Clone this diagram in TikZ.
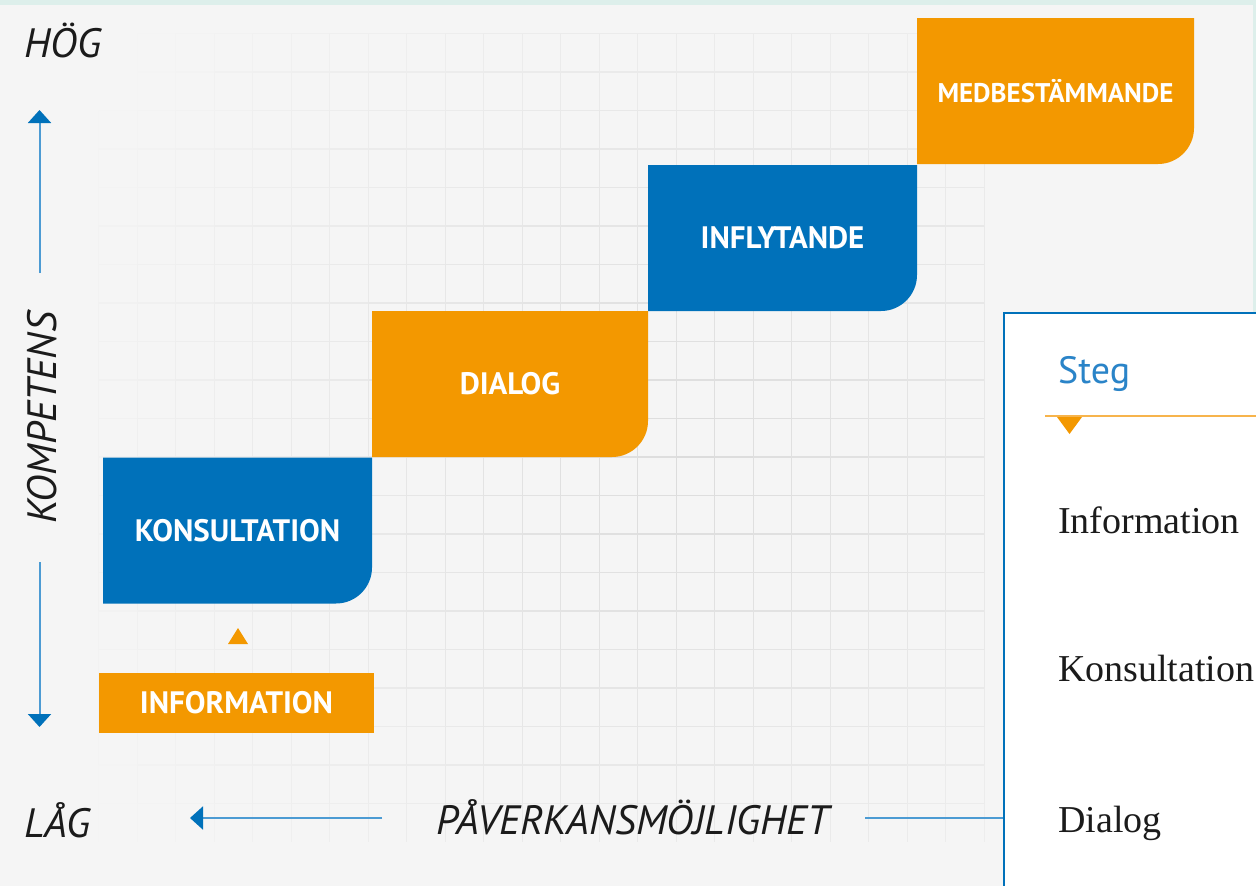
\documentclass[tikz,border=0pt]{standalone}
\usepackage{fontspec}
\setsansfont{PT Sans}
\newfontfamily\stegserif{Liberation Serif}
\usetikzlibrary{arrows.meta}

\definecolor{stepblue}{HTML}{0071BA}
\definecolor{steporange}{HTML}{F39800}
\definecolor{axisblue}{HTML}{4C9BD3}
\definecolor{paper}{HTML}{F5F5F5}
\definecolor{gridgray}{HTML}{DCDCDC}
\definecolor{bandteal}{HTML}{DDEFEB}
\definecolor{stegblue}{HTML}{2A84C8}
\definecolor{lineorange}{HTML}{F7B44C}
\definecolor{labelblack}{HTML}{1B1B1B}

\tikzset{
  stepbox/.style={minimum height=146pt, inner sep=0pt, text=white,
    font=\sffamily\bfseries\fontsize{31}{33}\selectfont,
    path picture={\fill[#1] (path picture bounding box.north west)
      -- (path picture bounding box.north east) [rounded corners=36pt]
      -- (path picture bounding box.south east) [sharp corners]
      -- (path picture bounding box.south west) -- cycle;}},
  axislabel/.style={inner sep=0pt, text=labelblack,
    font=\sffamily\itshape\fontsize{41}{44}\selectfont},
  axisarrow/.style={draw=axisblue, line width=2pt,
    -{Triangle[width=23pt,length=13pt,color=stepblue]}},
  gridline/.style={line width=1.3pt},
  stegtext/.style={inner sep=0pt, anchor=base west, text=labelblack,
    font=\stegserif\fontsize{38}{40}\selectfont}
}

\begin{document}
\begin{tikzpicture}[x=1pt,y=-1pt]
    \useasboundingbox (0,0) rectangle (1256,886);
    \clip (0,0) rectangle (1256,886);
    \fill[bandteal] (0,0) rectangle (1256,886);
    \fill[paper] (0,5) rectangle (1253,886);

    % faint grid behind the steps, fading out from the middle
    \foreach \i in {0,...,23} {
        \foreach \j in {0,...,20} {
            \pgfmathsetmacro{\gx}{98.7+38.5*\i}
            \pgfmathsetmacro{\gy}{33.5+38.5*\j}
            \pgfmathsetmacro{\p}{max(0,100-100*veclen((\gx-680)/100,(\gy-450)/100)/7)}
            \draw[gridline, draw=gridgray!\p!paper] (\gx,\gy) -- ++(0,38.5);
            \ifnum\i<23
                \draw[gridline, draw=gridgray!\p!paper] (\gx,\gy) -- ++(38.5,0);
            \fi
        }
    }

    \node [stepbox=stepblue, minimum width=269pt] at (237.5,530.5) (konsultation) {KONSULTATION};
    \node [stepbox=steporange, minimum width=276pt] at (510,384) (dialog) {DIALOG};
    \node [stepbox=stepblue, minimum width=269pt] at (782.5,238) (inflytande) {INFLYTANDE};
    \node [stepbox=steporange, minimum width=277pt, font=\sffamily\bfseries\fontsize{27}{29}\selectfont] at (1055.5,91) (medbest) {MEDBESTÄMMANDE};
    \node [fill=steporange, minimum width=275pt, minimum height=60pt, inner sep=0pt, text=white,
        font=\sffamily\bfseries\fontsize{31}{33}\selectfont] at (236.5,703) (information) {INFORMATION};
    \fill[steporange] (228,644) -- (248,644) -- (238,628) -- cycle;

    \node [axislabel, anchor=base west] at (24,57) (hog) {HÖG};
    \node [axislabel, anchor=base west] at (24,837) (lag) {LÅG};
    \node [axislabel, anchor=base, rotate=90] at (56,418) (kompetens) {KOMPETENS};
    \node [axislabel, anchor=base] at (633,834) (paverkan) {PÅVERKANSMÖJLIGHET};

    \coordinate (uptail) at (39.5,273);
    \coordinate (uphead) at (39.5,110);
    \coordinate (downtail) at (39.5,562);
    \coordinate (downhead) at (39.5,727);
    \coordinate (lefttail) at (382,818);
    \coordinate (lefthead) at (190,818);
    \coordinate (righttail) at (865,818);
    \path [axisarrow] (uptail) -- (uphead);
    \path [axisarrow] (downtail) -- (downhead);
    \path [axisarrow] (lefttail) -- (lefthead);

    % table panel on the right
    \node [draw=stepblue, fill=white, line width=2pt, anchor=north west, minimum width=300pt,
        minimum height=620pt] at (1003,312) (panel) {};
    \path [draw=axisblue, line width=2pt] (righttail) -- (righttail -| panel.west);
    \node [inner sep=0pt, anchor=base west, text=stegblue, font=\sffamily\fontsize{38}{40}\selectfont]
        at (1058,383) (steg) {Steg};
    \path [draw=lineorange, line width=2.5pt] (1045,416) -- (1256,416);
    \fill[steporange] (1057,417) -- (1082,417) -- (1069.5,434) -- cycle;
    \node [stegtext] at (1058,533) (info) {Information};
    \node [stegtext] at (1058,681) (kons) {Konsultation};
    \node [stegtext] at (1058,832) (dial) {Dialog};
\end{tikzpicture}
\end{document}
